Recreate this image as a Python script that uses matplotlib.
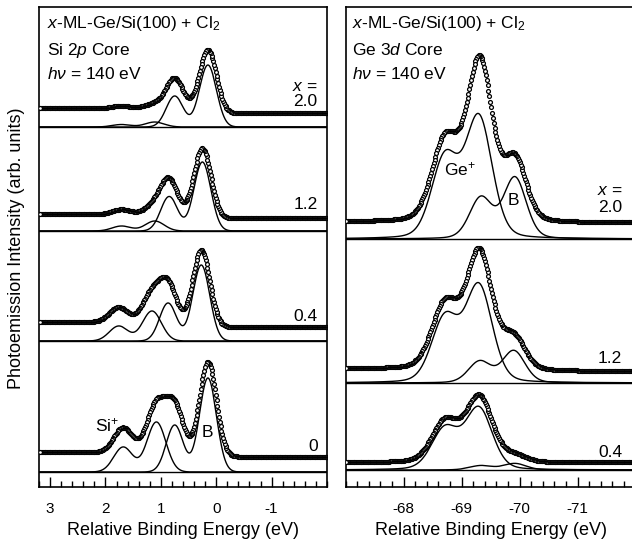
import numpy as np
import matplotlib.pyplot as plt
from matplotlib.ticker import MultipleLocator

plt.rcParams['font.family'] = 'Liberation Sans'
plt.rcParams['mathtext.fontset'] = 'custom'
plt.rcParams['mathtext.rm'] = 'Liberation Sans'
plt.rcParams['mathtext.it'] = 'Liberation Sans:italic'

# ---- Si 2p core (left), spectra top to bottom ----
si_cov = ['2.0', '1.2', '0.4', '0']
si_offset = [360, 256, 146, 15]
si_b_pos = [0.15, 0.25, 0.27, 0.15]     # bulk 2p3/2 position (eV)
si_b_amp = [62, 69, 76, 94]
si_p_pos = [1.11, 1.11, 1.16, 1.08]     # Si+ 2p3/2 position (eV)
si_p_amp = [5, 10, 30, 50]
si_bg_hi = [18.7, 16.7, 19.0, 19.7]     # background on high-BE side
si_bg_lo = [13.7, 12.7, 14.0, 15.3]     # background on low-BE side

# ---- Ge 3d core (right), spectra top to bottom ----
ge_cov = ['2.0', '1.2', '0.4']
ge_offset = [248, 104, 17]
ge_p_pos = [-69.30, -69.30, -69.30]     # Ge+ 3d5/2
ge_p_amp = [120, 96, 61]
ge_b_pos = [-69.92, -69.90, -69.92]     # bulk 3d5/2
ge_b_amp = [61, 32, 6.5]
ge_bg_hi = [17.0, 14.0, 7.5]
ge_bg_lo = [16.0, 11.5, 7.3]

# fit constants: width (FWHM), spin-orbit split, branching ratio, lorentz part
si_fwhm_b, si_fwhm_p, si_split, si_ratio, si_eta = 0.36, 0.40, 0.60, 0.5, 0.0
ge_fwhm_p, ge_fwhm_b, ge_split, ge_ratio, ge_eta = 0.54, 0.46, 0.585, 0.67, 0.2


def peak(e, pos, fwhm, eta):
    g = np.exp(-4 * np.log(2) * (e - pos) ** 2 / fwhm ** 2)
    l = 1 / (1 + (2 * (e - pos) / fwhm) ** 2)
    return (1 - eta) * g + eta * l


def doublet(e, pos, amp, fwhm, split, ratio, eta):
    return amp * (peak(e, pos, fwhm, eta) + ratio * peak(e, pos + split, fwhm, eta))


def shirley(e, signal, hi, lo):
    # e ascending -> cumulative from low-BE side
    c = np.cumsum(signal)
    return lo + (hi - lo) * c / c[-1]


fig = plt.figure(figsize=(6.32, 5.43), dpi=100)
W, H = 632, 543
ax1 = fig.add_axes([39 / W, 56 / H, 288 / W, 480 / H])
ax2 = fig.add_axes([345.5 / W, 56 / H, 290 / W, 480 / H])

dot = dict(ls='none', marker='o', ms=2.8, mfc='white', mec='black', mew=0.9, zorder=3)
line = dict(color='black', lw=1.0, zorder=2)

# left
e_dat = np.arange(-2.0, 3.2001, 0.015)
e_fit = np.linspace(-2.0, 3.2, 800)
for i in range(len(si_cov)):
    off = si_offset[i]
    bpar = (si_b_pos[i], si_b_amp[i], si_fwhm_b, si_split, si_ratio, si_eta)
    ppar = (si_p_pos[i], si_p_amp[i], si_fwhm_p, si_split, si_ratio, si_eta)
    tot = doublet(e_dat, *bpar) + doublet(e_dat, *ppar)
    bg = shirley(e_dat, tot, si_bg_hi[i], si_bg_lo[i])
    ax1.plot(e_dat, off + bg + tot, **dot)
    ax1.plot(e_fit, off + doublet(e_fit, *bpar), **line)
    ax1.plot(e_fit, off + doublet(e_fit, *ppar), **line)
    ax1.axhline(off, color='black', lw=1.0)

# right
e_dat2 = np.arange(-72.0, -66.9999, 0.015)
e_fit2 = np.linspace(-72.0, -67.0, 800)
for i in range(len(ge_cov)):
    off = ge_offset[i]
    ppar = (ge_p_pos[i], ge_p_amp[i], ge_fwhm_p, ge_split, ge_ratio, ge_eta)
    bpar = (ge_b_pos[i], ge_b_amp[i], ge_fwhm_b, ge_split, ge_ratio, ge_eta)
    tot = doublet(e_dat2, *ppar) + doublet(e_dat2, *bpar)
    bg = shirley(e_dat2, tot, ge_bg_hi[i], ge_bg_lo[i])
    ax2.plot(e_dat2, off + bg + tot, **dot)
    ax2.plot(e_fit2, off + doublet(e_fit2, *ppar), **line)
    ax2.plot(e_fit2, off + doublet(e_fit2, *bpar), **line)
    ax2.axhline(off, color='black', lw=1.0)

ax1.set_xlim(3.2, -2.0)
ax2.set_xlim(-67.0, -72.0)
ax1.set_xticks([3, 2, 1, 0, -1])
ax1.set_xticklabels(['3', '2', '1', '0', '-1'])
ax2.set_xticks([-68, -69, -70, -71])
ax2.set_xticklabels(['-68', '-69', '-70', '-71'])
for ax in (ax1, ax2):
    ax.set_ylim(0, 480)
    ax.set_yticks([])
    ax.xaxis.set_minor_locator(MultipleLocator(0.2))
    ax.tick_params(axis='x', which='major', direction='in', length=7, width=1, pad=11, labelsize=11)
    ax.tick_params(axis='x', which='minor', direction='in', length=4, width=1)
    for s in ax.spines.values():
        s.set_linewidth(1.2)
    ax.set_xlabel('Relative Binding Energy (eV)', fontsize=13, labelpad=4)

fig.text(17 / W, 1 - 248 / H, 'Photoemission Intensity (arb. units)', rotation=90,
         ha='center', va='center', fontsize=13)

fs = 12.5
def ytxt(py):
    return (487 - py)

# header texts
for ax, core, x0 in ((ax1, 'Si 2$p$ Core', 3.05), (ax2, 'Ge 3$d$ Core', -67.12)):
    ax.text(x0, ytxt(28), '$x$-ML-Ge/Si(100) + Cl$_2$', fontsize=fs)
    ax.text(x0, ytxt(55), core, fontsize=fs)
    ax.text(x0, ytxt(79), r'$h\nu$ = 140 eV', fontsize=fs)

# coverage labels
ax1.text(-1.83, ytxt(91), '$x$ =', ha='right', fontsize=fs)
si_lab_py = [106, 209, 321, 451]
for lab, py in zip(si_cov, si_lab_py):
    ax1.text(-1.83, ytxt(py), lab, ha='right', fontsize=fs)
ax2.text(-71.77, ytxt(195), '$x$ =', ha='right', fontsize=fs)
ge_lab_py = [212, 363, 457]
for lab, py in zip(ge_cov, ge_lab_py):
    ax2.text(-71.77, ytxt(py), lab, ha='right', fontsize=fs)

# component labels
ax1.text(1.97, ytxt(431), r'Si$^{\!+}$', ha='center', fontsize=fs)
ax1.text(0.16, ytxt(437), 'B', ha='center', fontsize=fs)
ax2.text(-68.97, ytxt(175), r'Ge$^{\!+}$', ha='center', fontsize=fs)
ax2.text(-69.9, ytxt(205), 'B', ha='center', fontsize=fs)

fig.savefig('out.png', dpi=100)
